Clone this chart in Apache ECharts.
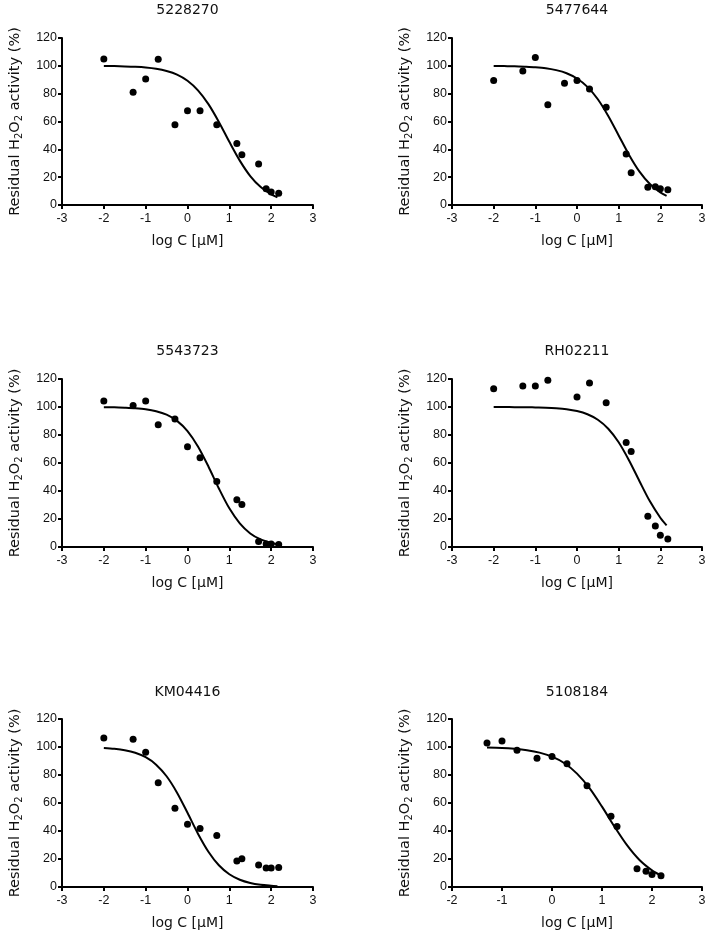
<!DOCTYPE html>
<html><head><meta charset="utf-8">
<script src="https://cdn.jsdelivr.net/npm/echarts@6/dist/echarts.min.js"></script>
<style>html,body{margin:0;padding:0;background:#fff}#c{width:711px;height:938px}</style>
</head><body><div id="c"></div>
<script>
// ---- data ----
const titles = ['5228270', '5477644', '5543723', 'RH02211', 'KM04416', '5108184'];
const logC = [-2, -1.3, -1, -0.7, -0.3, 0, 0.3, 0.7, 1.18, 1.3, 1.7, 1.88, 2, 2.18];
const act_5228270 = [105, 81, 90.6, 104.7, 57.6, 67.7, 67.7, 57.6, 44.2, 36.1, 29.4, 11.7, 9.3, 8.4];
const act_5477644 = [89.4, 96.3, 105.9, 72, 87.5, 89.4, 83.4, 70.3, 36.6, 23.2, 12.7, 13.1, 11.7, 11];
const act_5543723 = [104.3, 101, 104.3, 87.4, 91.4, 71.6, 63.7, 46.8, 33.7, 30.3, 4, 2.1, 2.1, 1.7];
const act_RH02211 = [113.1, 115, 115, 119.1, null, 107.2, 117.2, 103.1, 74.7, 68.3, 22, 15, 8.4, 5.7];
const act_KM04416 = [106.4, 105.5, 96.2, 74.5, 56.2, 44.8, 41.7, 36.7, 18.6, 20.2, 15.7, 13.6, 13.6, 14];
const act_5108184 = [null, 102.9, 104.3, 97.6, 91.9, 93.3, 88.1, 72.4, 50.5, 43.3, 13.1, 11.2, 9, 8.1];

// fitted curves
const curveLogC = [-2, -1.75, -1.5, -1.25, -1, -0.75, -0.5, -0.25, 0, 0.25, 0.5, 0.75, 1, 1.25, 1.5, 1.75, 2, 2.15];
const curveLogC_5108184 = [-1.3, -1, -0.75, -0.5, -0.25, 0, 0.25, 0.5, 0.75, 1, 1.25, 1.5, 1.75, 2, 2.17];
const fit_5228270 = [99.9, 99.8, 99.6, 99.3, 98.8, 97.9, 96.3, 93.7, 89.3, 82.4, 72.5, 59.7, 45.4, 31.9, 20.8, 12.9, 7.7, 5.6];
const fit_5477644 = [99.9, 99.8, 99.7, 99.4, 99.0, 98.3, 96.9, 94.7, 90.9, 84.9, 76.0, 64.0, 50.0, 36.0, 24.0, 15.1, 9.1, 6.6];
const fit_5543723 = [99.9, 99.8, 99.5, 99.1, 98.4, 97.0, 94.5, 90.1, 82.8, 71.8, 57.5, 41.8, 27.6, 16.9, 9.7, 5.4, 2.9, 2.0];
const fit_RH02211 = [100, 100, 99.9, 99.9, 99.7, 99.5, 99.1, 98.4, 97.1, 94.8, 90.9, 84.5, 74.8, 61.8, 47.0, 32.6, 20.9, 15.5];
const fit_KM04416 = [99.3, 98.7, 97.7, 95.9, 92.7, 87.4, 79.1, 67.4, 53.0, 38.1, 25.2, 15.5, 9.1, 5.2, 2.9, 1.6, 0.9, 0.6];
const fit_5108184 = [99.6, 99.3, 98.7, 97.7, 96.0, 93.1, 88.4, 81.0, 70.6, 57.4, 43.1, 29.9, 19.3, 11.9, 8.4];

const xMins = [-3, -3, -3, -3, -3, -2];
const yTicks = [0, 20, 40, 60, 80, 100, 120];

const acts = [act_5228270, act_5477644, act_5543723, act_RH02211, act_KM04416, act_5108184];
const fits = [fit_5228270, fit_5477644, fit_5543723, fit_RH02211, fit_KM04416, fit_5108184];
const fitXs = [curveLogC, curveLogC, curveLogC, curveLogC, curveLogC, curveLogC_5108184];

// ---- layout ----
const colLeft = [62, 452], colWidth = [251, 250];
const rowTop = [38, 379, 719], rowHeight = [167, 168, 168];
const titleTop = [3, 344, 685];
const FONT = 'DejaVu Sans';
const TICKFONT = 'Liberation Sans';

const grid = [], xAxis = [], yAxis = [], series = [], title = [];
for (let i = 0; i < 6; i++) {
  const c = i % 2, r = Math.floor(i / 2);
  grid.push({left: colLeft[c], top: rowTop[r], width: colWidth[c], height: rowHeight[r], containLabel: false});
  title.push({
    text: titles[i], left: colLeft[c] + colWidth[c] / 2, top: titleTop[r], textAlign: 'center', padding: 0,
    textStyle: {fontFamily: FONT, fontSize: 14, fontWeight: 'normal', color: '#111'}
  });
  const axisCommon = {
    axisLine: {onZero: false, lineStyle: {color: '#000', width: 2}},
    axisTick: {show: true, length: 4, lineStyle: {color: '#000', width: 2}},
    splitLine: {show: false}
  };
  xAxis.push(Object.assign({
    gridIndex: i, type: 'value', min: xMins[i], max: 3, interval: 1,
    name: 'log C [µM]', nameLocation: 'middle', nameGap: 29,
    nameTextStyle: {fontFamily: FONT, fontSize: 14, color: '#111'},
    axisLabel: {color: '#111', margin: 7, fontSize: 12.5, fontFamily: TICKFONT}
  }, axisCommon));
  yAxis.push(Object.assign({
    gridIndex: i, type: 'value', min: yTicks[0], max: yTicks[yTicks.length - 1], interval: yTicks[1] - yTicks[0],
    name: 'Residual H{sub|2}O{sub|2} activity (%)', nameLocation: 'middle', nameGap: 38,
    nameTextStyle: {
      fontFamily: FONT, fontSize: 14.5, color: '#111', lineHeight: 17,
      rich: {sub: {fontFamily: FONT, fontSize: 10, lineHeight: 10, verticalAlign: 'bottom', color: '#111'}}
    },
    axisLabel: {color: '#111', margin: 5, fontSize: 12.5, fontFamily: TICKFONT}
  }, axisCommon));
  const pts = [];
  logC.forEach((x, k) => { if (acts[i][k] != null) pts.push([x, acts[i][k]]); });
  series.push({
    type: 'scatter', xAxisIndex: i, yAxisIndex: i, data: pts,
    symbol: 'circle', symbolSize: 7, itemStyle: {color: '#000', opacity: 1}, z: 3
  });
  series.push({
    type: 'line', xAxisIndex: i, yAxisIndex: i, data: fitXs[i].map((x, k) => [x, fits[i][k]]),
    showSymbol: false, smooth: 0.3,
    lineStyle: {color: '#000', width: 2}, z: 2
  });
}

const chart = echarts.init(document.getElementById('c'), null, {renderer: 'canvas'});
chart.setOption({backgroundColor: '#fff', animation: false, title, grid, xAxis, yAxis, series});
</script>
</body></html>
